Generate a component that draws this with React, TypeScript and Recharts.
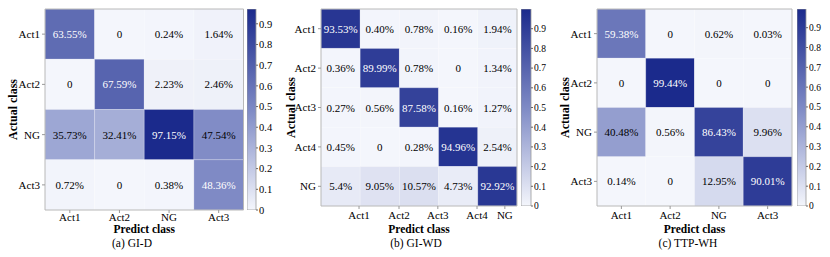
import { ScatterChart, Scatter, XAxis, YAxis, ReferenceArea, BarChart, Bar } from 'recharts';

const FONT = '"Liberation Serif", "Times New Roman", Times, serif';

// (a) GI-D
const classesA = ['Act1', 'Act2', 'NG', 'Act3'];
const cellsA = [
  ['63.55%', '0', '0.24%', '1.64%'],
  ['0', '67.59%', '2.23%', '2.46%'],
  ['35.73%', '32.41%', '97.15%', '47.54%'],
  ['0.72%', '0', '0.38%', '48.36%'],
];
const xTicksA = [0.5, 1.5, 2.5, 3.5];
const maxA = 0.9715;

// (b) GI-WD
const classesB = ['Act1', 'Act2', 'Act3', 'Act4', 'NG'];
const cellsB = [
  ['93.53%', '0.40%', '0.78%', '0.16%', '1.94%'],
  ['0.36%', '89.99%', '0.78%', '0', '1.34%'],
  ['0.27%', '0.56%', '87.58%', '0.16%', '1.27%'],
  ['0.45%', '0', '0.28%', '94.96%', '2.54%'],
  ['5.4%', '9.05%', '10.57%', '4.73%', '92.92%'],
];
// the x labels of (b) sit off the cell centres in the original
const xTicksB = [0.97, 1.99, 2.98, 3.98, 4.69];
const maxB = 1.0;

// (c) TTP-WH
const classesC = ['Act1', 'Act2', 'NG', 'Act3'];
const cellsC = [
  ['59.38%', '0', '0.62%', '0.03%'],
  ['0', '99.44%', '0', '0'],
  ['40.48%', '0.56%', '86.43%', '9.96%'],
  ['0.14%', '0', '12.95%', '90.01%'],
];
const xTicksC = [0.5, 1.5, 2.5, 3.5];
const maxC = 0.9944;

const colorbarTicks = [0, 0.1, 0.2, 0.3, 0.4, 0.5, 0.6, 0.7, 0.8, 0.9];

const STOPS: [number, number[]][] = [
  [0, [244, 246, 252]],
  [0.5, [126, 138, 197]],
  [1, [27, 42, 140]],
];

function cellColor(t: number) {
  const v = Math.max(0, Math.min(1, t));
  for (let i = 1; i < STOPS.length; i++) {
    const [t0, c0] = STOPS[i - 1];
    const [t1, c1] = STOPS[i];
    if (v <= t1) {
      const f = (v - t0) / (t1 - t0);
      const c = c0.map((x, k) => Math.round(x + (c1[k] - x) * f));
      return `rgb(${c[0]},${c[1]},${c[2]})`;
    }
  }
  return 'rgb(27,42,140)';
}

interface Box {
  left: number;
  right: number;
  top: number;
  bottom: number;
}

interface HeatProps {
  classes: string[];
  cells: string[][];
  xTicks: number[];
  max: number;
  box: Box;
  labelX: number;
  xTickMargin: number;
}

function HeatPanel({ classes, cells, xTicks, max, box, labelX, xTickMargin }: HeatProps) {
  const n = classes.length;
  const chartLeft = box.left - 44;
  const width = box.right - chartLeft + 2;
  const points = cells.flatMap((row, r) =>
    row.map((text, c) => ({ x: c + 0.5, y: r + 0.5, text, v: parseFloat(text) / 100 })),
  );
  const yTicks = classes.map((_, i) => i + 0.5);
  const tickStyle = { fontSize: 11, fontFamily: FONT, fill: '#000' };
  const boldStyle = { fontSize: 11.5, fontFamily: FONT, fontWeight: 'bold', fill: '#000' };

  return (
    <div style={{ position: 'absolute', left: chartLeft, top: 0 }}>
      <ScatterChart width={width} height={257} margin={{ top: box.top, right: 2, bottom: 0, left: 0 }}>
        <XAxis
          type="number"
          dataKey="x"
          domain={[0, n]}
          ticks={xTicks}
          interval={0}
          tickFormatter={(v: number) => classes[xTicks.indexOf(v)]}
          height={257 - box.bottom}
          axisLine={false}
          tickSize={3}
          tickMargin={xTickMargin}
          tickLine={{ stroke: '#999' }}
          tick={tickStyle}
          allowDataOverflow
          label={{
            value: 'Predict class',
            position: 'insideTop',
            offset: 225.2 - box.bottom,
            style: boldStyle,
          }}
        />
        <YAxis
          type="number"
          dataKey="y"
          domain={[0, n]}
          reversed
          ticks={yTicks}
          interval={0}
          tickFormatter={(v: number) => classes[Math.floor(v)]}
          width={44}
          axisLine={false}
          tickSize={3}
          tickMargin={2}
          tickLine={{ stroke: '#999' }}
          tick={tickStyle}
          allowDataOverflow
          label={{
            value: 'Actual class',
            angle: -90,
            position: 'insideLeft',
            offset: labelX - chartLeft,
            style: { ...boldStyle, fontSize: 12, textAnchor: 'middle' },
          }}
        />
        {points.map((p) => (
          <ReferenceArea
            key={`${p.x}-${p.y}`}
            x1={p.x - 0.5}
            x2={p.x + 0.5}
            y1={p.y - 0.5}
            y2={p.y + 0.5}
            fill={cellColor(p.v / max)}
            fillOpacity={1}
            stroke="#ffffff"
            strokeOpacity={0.35}
            strokeWidth={0.6}
          />
        ))}
        <ReferenceArea x1={0} x2={n} y1={0} y2={n} fill="none" fillOpacity={0} stroke="#b8b8b8" strokeWidth={1} />
        <Scatter
          data={points}
          isAnimationActive={false}
          shape={(p: any) => (
            <text
              x={p.cx}
              y={p.cy}
              textAnchor="middle"
              dominantBaseline="central"
              fontSize={11}
              style={{ fontFamily: FONT }}
              fill={p.payload.v / max > 0.494 ? '#ffffff' : '#000000'}
            >
              {p.payload.text}
            </text>
          )}
        />
      </ScatterChart>
    </div>
  );
}

interface BarProps {
  id: string;
  max: number;
  left: number;
  right: number;
  top: number;
  bottom: number;
  fontSize: number;
}

function ColorBar({ id, max, left, right, top, bottom, fontSize }: BarProps) {
  const w = right - left;
  return (
    <div style={{ position: 'absolute', left, top: 0 }}>
      <BarChart
        width={w + 30}
        height={257}
        data={[{ name: 'cb', v: max }]}
        margin={{ top, right: 0, bottom: 257 - bottom, left: 0 }}
        barCategoryGap={0}
      >
        <defs>
          <linearGradient id={id} x1="0" y1="0" x2="0" y2="1">
            {STOPS.map(([t]) => (
              <stop key={t} offset={`${(1 - t) * 100}%`} stopColor={cellColor(t)} />
            )).reverse()}
          </linearGradient>
        </defs>
        <XAxis dataKey="name" hide />
        <YAxis
          orientation="right"
          type="number"
          domain={[0, max]}
          ticks={colorbarTicks}
          interval={0}
          width={30}
          axisLine={false}
          tickSize={2}
          tickMargin={1}
          tickLine={{ stroke: '#666' }}
          tick={{ fontSize, fontFamily: FONT, fill: '#000', textAnchor: 'start' }}
          allowDataOverflow
        />
        <Bar dataKey="v" fill={`url(#${id})`} stroke="#9a9a9a" strokeWidth={0.8} isAnimationActive={false} />
      </BarChart>
    </div>
  );
}

function Caption({ text, x }: { text: string; x: number }) {
  return (
    <div
      style={{
        position: 'absolute',
        left: x - 60,
        width: 120,
        top: 236.6,
        textAlign: 'center',
        fontFamily: FONT,
        fontSize: 11.5,
        lineHeight: '12px',
        color: '#000',
      }}
    >
      {text}
    </div>
  );
}

export default function App() {
  return (
    <div
      style={{
        position: 'absolute',
        left: 0,
        top: 0,
        width: 830,
        height: 257,
        background: '#fff',
        overflow: 'hidden',
        fontFamily: FONT,
      }}
    >
      <HeatPanel
        classes={classesA}
        cells={cellsA}
        xTicks={xTicksA}
        max={maxA}
        box={{ left: 44.5, right: 243, top: 9, bottom: 210 }}
        labelX={12}
        xTickMargin={0}
      />
      <ColorBar id="cbA" max={maxA} left={247} right={256} top={9} bottom={210} fontSize={10.5} />
      <Caption text="(a) GI-D" x={132} />

      <HeatPanel
        classes={classesB}
        cells={cellsB}
        xTicks={xTicksB}
        max={maxB}
        box={{ left: 321, right: 517, top: 9, bottom: 206 }}
        labelX={291}
        xTickMargin={2}
      />
      <ColorBar id="cbB" max={maxB} left={521} right={531} top={9} bottom={206} fontSize={9.5} />
      <Caption text="(b) GI-WD" x={416} />

      <HeatPanel
        classes={classesC}
        cells={cellsC}
        xTicks={xTicksC}
        max={maxC}
        box={{ left: 597, right: 792, top: 9, bottom: 206 }}
        labelX={565}
        xTickMargin={2}
      />
      <ColorBar id="cbC" max={maxC} left={797} right={806} top={9} bottom={206} fontSize={9.5} />
      <Caption text="(c) TTP-WH" x={688} />
    </div>
  );
}
